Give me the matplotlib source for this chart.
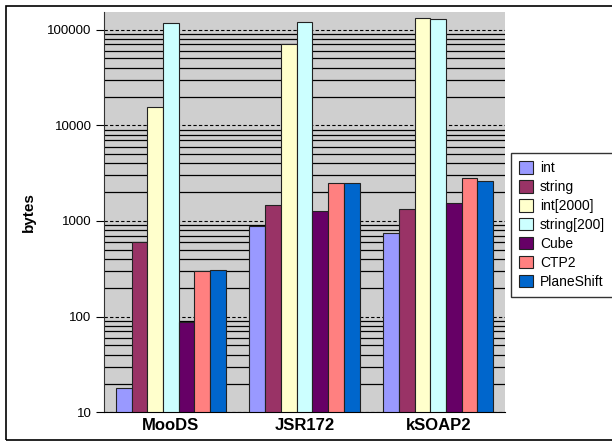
import matplotlib
matplotlib.use("Agg")
import matplotlib.pyplot as plt
import numpy as np
from matplotlib.patches import Rectangle
from matplotlib.ticker import FixedLocator, NullFormatter

plt.rcParams['font.family'] = ['Liberation Sans', 'DejaVu Sans']

categories = ["MooDS", "JSR172", "kSOAP2"]
series = ["int", "string", "int[2000]", "string[200]", "Cube", "CTP2", "PlaneShift"]
values = {
    "int":         [18, 880, 750],
    "string":      [610, 1455, 1345],
    "int[2000]":   [15600, 71000, 133000],
    "string[200]": [116000, 121000, 129000],
    "Cube":        [87, 1280, 1550],
    "CTP2":        [300, 2490, 2830],
    "PlaneShift":  [305, 2480, 2610],
}
colors = ["#9999FF", "#993366", "#FFFFCC", "#CCFFFF", "#660066", "#FF8080", "#0066CC"]
yticks = [10, 100, 1000, 10000, 100000]

fig = plt.figure(figsize=(6.12, 4.41), dpi=100)
ax = fig.add_axes([104/612, (441-412.3)/441, (505-104)/612, (412.3-12.3)/441])
ax.set_facecolor("#CFCFCF")
ax.set_yscale("log")
ax.set_ylim(10, 10**(5 + 17.4/96))

n = len(series)
bw = 1.0 / (n + 1.5)
x = np.arange(len(categories))
for i, (s, c) in enumerate(zip(series, colors)):
    offs = (i - (n - 1) / 2) * bw
    ax.bar(x + offs, values[s], width=bw, color=c, edgecolor="#222222",
           linewidth=0.8, label=s, zorder=3)
ax.set_xlim(-0.5, len(categories) - 0.5)

# gridlines
minors = [m * 10**e for e in range(1, 6) for m in range(2, 10)]
for v in minors:
    ax.axhline(v, color="black", linewidth=0.9, zorder=1)
for v in yticks:
    ax.axhline(v, color="black", linewidth=0.8, linestyle=(0, (3, 2)), zorder=1)

ax.yaxis.set_major_locator(FixedLocator(yticks))
ax.set_yticklabels([str(v) for v in yticks], fontsize=9.5)
ax.yaxis.set_minor_locator(FixedLocator([]))
ax.yaxis.set_minor_formatter(NullFormatter())
ax.tick_params(axis="y", which="major", direction="out", length=6, width=0.8, pad=3)
ax.set_xticks(x)
ax.set_xticklabels(categories, fontsize=12, fontweight="bold")
ax.tick_params(axis="x", length=0, pad=4)

for sp in ["top", "right"]:
    ax.spines[sp].set_visible(False)
ax.spines["left"].set_color("#333333")
ax.spines["bottom"].set_color("black")
ax.spines["left"].set_zorder(4)
ax.spines["bottom"].set_zorder(4)

ax.set_ylabel("bytes", fontsize=11, fontweight="bold", labelpad=8)

leg = fig.legend(loc="upper left", bbox_to_anchor=(511/612, 1 - 153/441),
                 fontsize=10, frameon=True, fancybox=False, edgecolor="black",
                 handlelength=1.0, handleheight=1.0, handletextpad=0.5,
                 labelspacing=0.35, borderpad=0.6, borderaxespad=0)
leg.get_frame().set_linewidth(1.0)

fig.patches.append(Rectangle((6/612, 1 - 439.5/441), (620 - 6)/612, (439.5 - 6)/441,
                             transform=fig.transFigure, fill=False,
                             edgecolor="black", linewidth=1.2, clip_on=False))

fig.savefig("out.png", dpi=100)
